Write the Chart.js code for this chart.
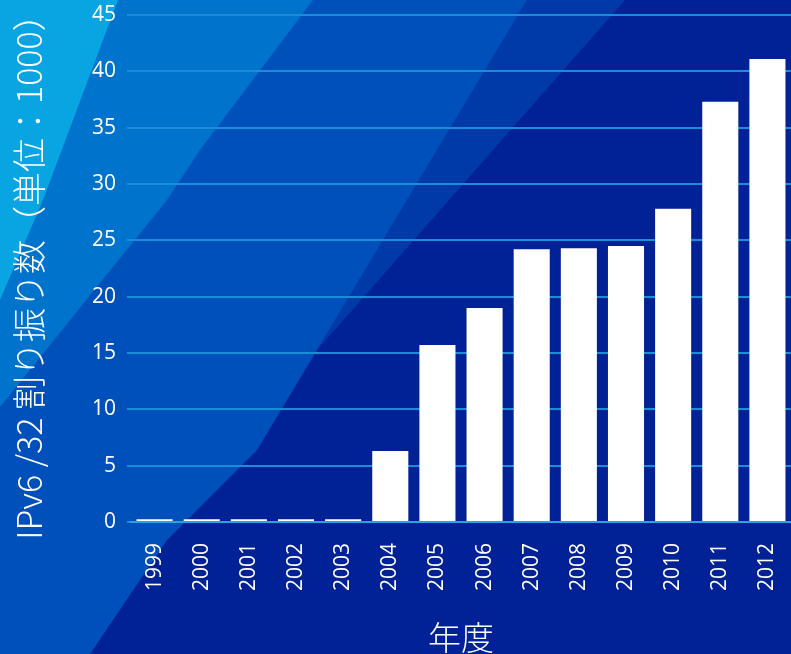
<!DOCTYPE html>
<html>
<head>
<meta charset="utf-8">
<script src="https://cdn.jsdelivr.net/npm/chart.js@4.4.1/dist/chart.umd.min.js"></script>
<style>
    html, body { margin: 0; padding: 0; background: #002296; }
    #wrap { width: 791px; height: 654px; }
</style>
</head>
<body>
<div id="wrap"><canvas id="allocChart" width="791" height="654"></canvas></div>
<script>
// years and /32 allocations (x1000)
let years = ["1999", "2000", "2001", "2002", "2003", "2004", "2005", "2006", "2007", "2008", "2009", "2010", "2011", "2012"];
let allocations = [0.25, 0.25, 0.25, 0.25, 0.25, 6.3, 15.7, 19.0, 24.2, 24.3, 24.5, 27.8, 37.3, 41.1];
let yTicks = [0, 5, 10, 15, 20, 25, 30, 35, 40, 45];

let yTitle = "IPv6 /32 割り振り数（単位：1000）";
let xTitle = "年度";

// diagonal bands behind the chart, lightest drawn last
let bands = [
    { color: "#003aa9", pts: [[527, 0], [625, 0], [317, 350]] },
    { color: "#0050bb", pts: [[0, 0], [527, 0], [467, 100], [257, 450], [167, 540], [90, 654], [0, 654]] },
    { color: "#0073cd", pts: [[0, 0], [313, 0], [200, 150], [167, 200], [0, 407]] },
    { color: "#08a5e2", pts: [[0, 0], [118, 0], [43, 200], [0, 300]] }
];

const bandPlugin = {
    id: "bands",
    beforeDraw: function (chart) {
        let ctx = chart.ctx;
        ctx.save();
        ctx.fillStyle = "#002296";
        ctx.fillRect(0, 0, chart.width, chart.height);
        bands.forEach(function (b) {
            ctx.beginPath();
            b.pts.forEach(function (p, i) {
                if (i === 0) ctx.moveTo(p[0], p[1]);
                else ctx.lineTo(p[0], p[1]);
            });
            ctx.closePath();
            ctx.fillStyle = b.color;
            ctx.fill();
        });
        ctx.restore();
    }
};

const numFont = { family: "'Open Sans', 'Noto Sans', sans-serif", size: 21, weight: 400 };
const cjkFont = "'Noto Sans CJK JP', 'Open Sans', sans-serif";

new Chart("allocChart", {
    type: "bar",
    data: {
        labels: years,
        datasets: [{
            data: allocations,
            backgroundColor: "#ffffff",
            borderWidth: 0,
            barPercentage: 0.765,
            categoryPercentage: 1.0
        }]
    },
    options: {
        responsive: false,
        animation: false,
        layout: { padding: { top: 15, right: 0, bottom: 0, left: 0 } },
        plugins: {
            legend: { display: false },
            tooltip: { enabled: false }
        },
        scales: {
            x: {
                grid: { display: false },
                border: { display: true, color: "#2aa3e2", width: 2 },
                ticks: {
                    color: "#ffffff",
                    font: numFont,
                    minRotation: 90,
                    maxRotation: 90,
                    autoSkip: false,
                    padding: 13
                },
                title: {
                    display: true,
                    text: xTitle,
                    color: "#ffffff",
                    font: { family: cjkFont, size: 33, weight: 300, lineHeight: 1 },
                    padding: { top: 0, bottom: 0 }
                },
                afterFit: function (scale) {
                    scale.height = 132;
                    scale.paddingLeft = 0;
                    scale.paddingRight = 0;
                }
            },
            y: {
                min: 0,
                max: 45,
                afterBuildTicks: function (scale) {
                    scale.ticks = yTicks.map(v => ({ value: v }));
                },
                grid: { color: "#1a8dd6", lineWidth: 2, drawTicks: true, tickLength: 4 },
                border: { display: false },
                ticks: {
                    color: "#ffffff",
                    font: numFont,
                    padding: 11
                },
                title: {
                    display: true,
                    text: yTitle,
                    color: "#ffffff",
                    font: { family: cjkFont, size: 34, weight: 300, lineHeight: 1.1 },
                    padding: { top: 10, bottom: 0 }
                },
                afterFit: function (scale) {
                    scale.width = 131;
                    scale.paddingTop = 0;
                    scale.paddingBottom = 0;
                }
            }
        }
    },
    plugins: [bandPlugin]
});
</script>
</body>
</html>
